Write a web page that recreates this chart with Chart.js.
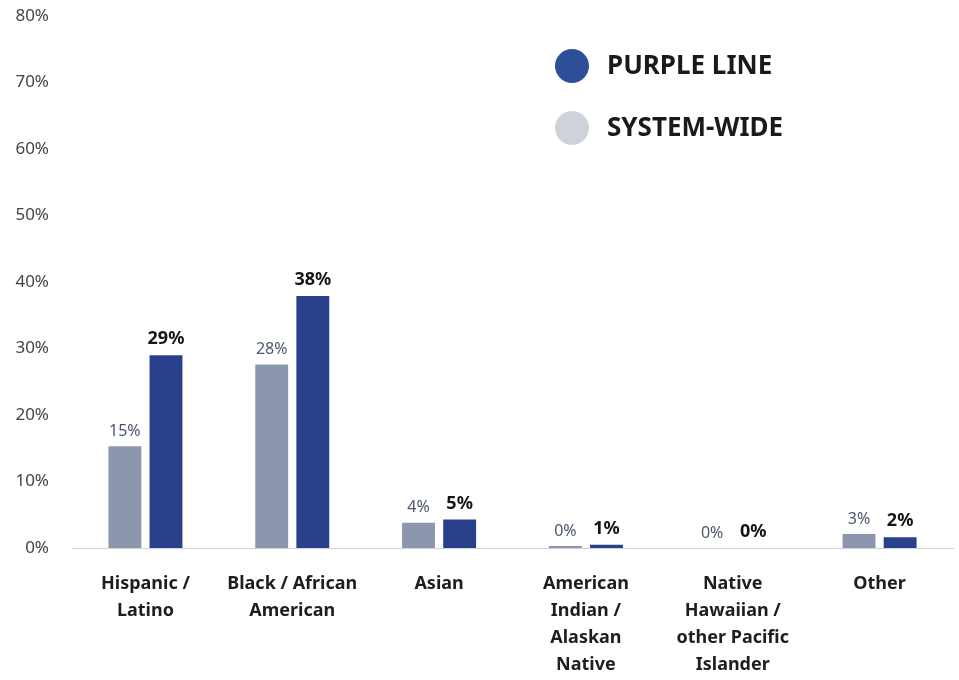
<!DOCTYPE html>
<html><head><meta charset="utf-8">
<script src="https://cdn.jsdelivr.net/npm/chart.js@4.4.0/dist/chart.umd.min.js"></script>
<style>html,body{margin:0;padding:0;background:#fff}#wrap{width:959px;height:680px}</style>
</head><body><div id="wrap"><canvas id="c" width="959" height="680"></canvas></div>
<script>
const categories = [["Hispanic /","Latino"],["Black / African","American"],["Asian"],["American","Indian /","Alaskan","Native"],["Native","Hawaiian /","other Pacific","Islander"],["Other"]];
const systemWide = [15.3, 27.6, 3.8, 0.3, 0, 2.1];
const purpleLine = [29, 37.9, 4.3, 0.5, 0, 1.6];
const systemWideLabels = ["15%","28%","4%","0%","0%","3%"];
const purpleLineLabels = ["29%","38%","5%","1%","0%","2%"];
const yTicks = [0,10,20,30,40,50,60,70,80];

const FONT = "'Noto Sans', 'Open Sans', sans-serif";
const GRAY = '#8c97ae', BLUE = '#28418a';

const labelPlugin = {
  id: 'vlabels',
  afterDatasetsDraw(chart) {
    const ctx = chart.ctx;
    ctx.save();
    ctx.textAlign = 'center';
    ctx.textBaseline = 'bottom';
    chart.data.datasets.forEach((ds, di) => {
      const meta = chart.getDatasetMeta(di);
      meta.data.forEach((bar, i) => {
        if (di === 0) { ctx.font = "400 16px " + FONT; ctx.fillStyle = '#4d566b'; }
        else { ctx.font = "700 18px " + FONT; ctx.fillStyle = '#151515'; }
        ctx.fillText(ds.valueLabels[i], bar.x, bar.y - 7);
      });
    });
    ctx.restore();
  }
};

const legendPlugin = {
  id: 'customLegend',
  afterDraw(chart) {
    const ctx = chart.ctx;
    ctx.save();
    const items = [{label:'PURPLE LINE', color:'#2c4f98'}, {label:'SYSTEM-WIDE', color:'#cfd3d9'}];
    items.forEach((it, k) => {
      const cy = 66 + k * 62;
      ctx.beginPath();
      ctx.arc(572, cy, 17, 0, Math.PI * 2);
      ctx.fillStyle = it.color;
      ctx.fill();
      ctx.font = "700 26px " + FONT;
      ctx.fillStyle = '#1a1a1a';
      ctx.textBaseline = 'middle';
      ctx.textAlign = 'left';
      ctx.fillText(it.label, 607, cy + 1);
    });
    ctx.restore();
  }
};

new Chart(document.getElementById('c'), {
  type: 'bar',
  data: {
    labels: categories,
    datasets: [
      { label: 'SYSTEM-WIDE', data: systemWide, valueLabels: systemWideLabels, backgroundColor: GRAY },
      { label: 'PURPLE LINE', data: purpleLine, valueLabels: purpleLineLabels, backgroundColor: BLUE }
    ]
  },
  options: {
    responsive: false,
    animation: false,
    devicePixelRatio: 1,
    layout: { padding: { top: 16, right: 6, left: 0, bottom: 0 } },
    categoryPercentage: 0.56,
    barPercentage: 0.8,
    plugins: { legend: { display: false }, tooltip: { enabled: false } },
    scales: {
      x: {
        grid: { display: false },
        border: { display: true, color: '#d2d2d2', width: 1 },
        ticks: { color: '#1e1e1e', font: { family: FONT, size: 18, weight: '700', lineHeight: 1.5 }, padding: 14, maxRotation: 0, autoSkip: false },
        afterFit(s) { s.height = 132; s.paddingLeft = 0; s.paddingRight = 0; }
      },
      y: {
        min: 0, max: 80,
        afterBuildTicks(s) { s.ticks = yTicks.map(v => ({ value: v })); },
        grid: { display: false },
        border: { display: false },
        ticks: { color: '#444', font: { family: FONT, size: 17 }, padding: 15, callback: v => v + '%' },
        afterFit(s) { s.width = 72; s.paddingTop = 0; s.paddingBottom = 0; }
      }
    }
  },
  plugins: [labelPlugin, legendPlugin]
});
</script></body></html>
